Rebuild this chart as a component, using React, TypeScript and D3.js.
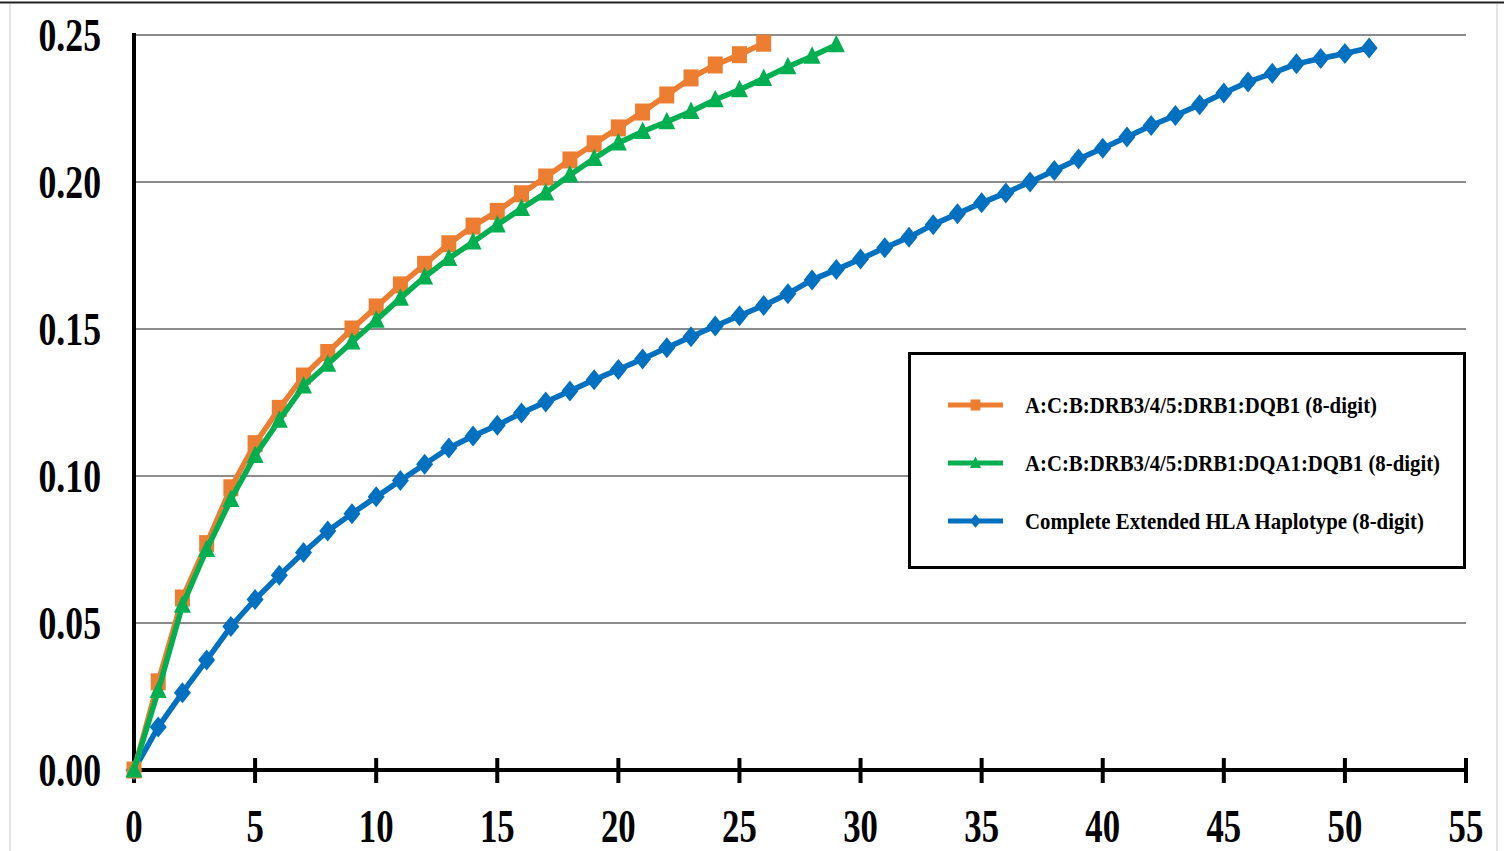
import React from "react";
import * as d3 from "d3";

// Cumulative frequency by haplotype rank (0-based index = rank)
const orangeValues = [
  0, 0.030, 0.0585, 0.077, 0.096, 0.111, 0.123, 0.134, 0.142, 0.150,
  0.1575, 0.165, 0.172, 0.179, 0.185, 0.190, 0.196, 0.2017, 0.2075, 0.213,
  0.2184, 0.2238, 0.2296, 0.2354, 0.2398, 0.2433, 0.2472,
];
const greenValues = [
  0, 0.027, 0.056, 0.075, 0.092, 0.107, 0.119, 0.1306, 0.138, 0.1456,
  0.153, 0.1605, 0.1677, 0.174, 0.1796, 0.1854, 0.191, 0.1963, 0.2024, 0.208,
  0.2133, 0.2172, 0.2205, 0.224, 0.228, 0.2314, 0.2352, 0.2392, 0.2428, 0.2467,
];
const blueValues = [
  0, 0.0146, 0.0263, 0.0374, 0.0488, 0.058, 0.0662, 0.074, 0.0813, 0.0872,
  0.0929, 0.0985, 0.104, 0.1095, 0.1136, 0.1173, 0.1214, 0.1252, 0.1289, 0.1327,
  0.1362, 0.1398, 0.1436, 0.1474, 0.151, 0.1545, 0.158, 0.162, 0.1667, 0.1702,
  0.1738, 0.1776, 0.1812, 0.1855, 0.1892, 0.1929, 0.1963, 0.2, 0.2039, 0.2078,
  0.2115, 0.2153, 0.2192, 0.2226, 0.2263, 0.2303, 0.234, 0.237, 0.2402, 0.242,
  0.2437, 0.2456,
];

const seriesLabels = [
  "A:C:B:DRB3/4/5:DRB1:DQB1 (8-digit)",
  "A:C:B:DRB3/4/5:DRB1:DQA1:DQB1 (8-digit)",
  "Complete Extended HLA Haplotype (8-digit)",
];
const xTicks = [0, 5, 10, 15, 20, 25, 30, 35, 40, 45, 50, 55];
const yTicks = [0, 0.05, 0.1, 0.15, 0.2, 0.25];

const ORANGE = "#ED7D31";
const GREEN = "#00B050";
const BLUE = "#0070C0";
const FONT = "'Liberation Serif', 'Times New Roman', serif";

type Shape = "square" | "triangle" | "diamond";

function markerPath(shape: Shape): string {
  if (shape === "square") return "M-7.5,-8.5H7.5V8.5H-7.5Z";
  if (shape === "triangle") return "M0,-10L8.5,7.5H-8.5Z";
  return "M0,-10.5L8.5,0L0,10.5L-8.5,0Z";
}

export default function App() {
  const W = 1504;
  const H = 851;
  const x = d3.scaleLinear().domain([0, 55]).range([134, 1466]);
  const y = d3.scaleLinear().domain([0, 0.25]).range([770, 35]);

  const line = d3
    .line<number>()
    .x((_, i) => x(i))
    .y((d) => y(d));

  const series: { values: number[]; color: string; shape: Shape }[] = [
    { values: blueValues, color: BLUE, shape: "diamond" },
    { values: orangeValues, color: ORANGE, shape: "square" },
    { values: greenValues, color: GREEN, shape: "triangle" },
  ];

  const legendItems = [
    { label: seriesLabels[0], color: ORANGE, shape: "square" as Shape, cy: 405, len: 352 },
    { label: seriesLabels[1], color: GREEN, shape: "triangle" as Shape, cy: 463, len: 415 },
    { label: seriesLabels[2], color: BLUE, shape: "diamond" as Shape, cy: 521, len: 399 },
  ];

  return (
    <svg
      width={W}
      height={H}
      viewBox={`0 0 ${W} ${H}`}
      style={{ position: "absolute", left: 0, top: 0, background: "#fff" }}
    >
      {/* sheet frame */}
      <line x1={0} x2={W} y1={2.5} y2={2.5} stroke="#222" strokeWidth={2} />
      <line x1={10} x2={10} y1={4} y2={H} stroke="#ddd" strokeWidth={1.5} />
      <line x1={1497} x2={1497} y1={4} y2={H} stroke="#ddd" strokeWidth={1.5} />

      {/* horizontal gridlines */}
      {yTicks.slice(1).map((t) => (
        <line
          key={`g${t}`}
          x1={x(0)}
          x2={x(55)}
          y1={y(t)}
          y2={y(t)}
          stroke="#8c8c8c"
          strokeWidth={2}
        />
      ))}

      {/* y axis */}
      <line x1={x(0)} x2={x(0)} y1={y(0.25) - 2} y2={y(0) + 2} stroke="#000" strokeWidth={4} />
      {yTicks.map((t) => (
        <text
          key={`yl${t}`}
          transform={`translate(101,${y(t) + 16}) scale(0.76,1)`}
          textAnchor="end"
          fontFamily={FONT}
          fontWeight="bold"
          fontSize={47}
          fill="#000"
        >
          {d3.format(".2f")(t)}
        </text>
      ))}

      {/* x axis */}
      <line x1={x(0) - 2} x2={x(55) + 2} y1={y(0)} y2={y(0)} stroke="#000" strokeWidth={4} />
      {xTicks.map((t) => (
        <g key={`xt${t}`}>
          <line x1={x(t)} x2={x(t)} y1={y(0) - 12} y2={y(0) + 13} stroke="#000" strokeWidth={4} />
          <text
            transform={`translate(${x(t)},842) scale(0.74,1)`}
            textAnchor="middle"
            fontFamily={FONT}
            fontWeight="bold"
            fontSize={47}
            fill="#000"
          >
            {t}
          </text>
        </g>
      ))}

      {/* series */}
      {series.map((s, si) => (
        <g key={`s${si}`}>
          <path d={line(s.values) ?? ""} fill="none" stroke={s.color} strokeWidth={5.5} strokeLinejoin="round" />
          {s.values.map((v, i) => (
            <path
              key={i}
              d={markerPath(s.shape)}
              transform={`translate(${x(i)},${y(v)})`}
              fill={s.color}
            />
          ))}
        </g>
      ))}

      {/* legend */}
      <rect x={909.5} y={353.5} width={555} height={214} fill="#fff" stroke="#000" strokeWidth={3} />
      {legendItems.map((it) => (
        <g key={it.label}>
          <line x1={948} x2={1003} y1={it.cy} y2={it.cy} stroke={it.color} strokeWidth={5} />
          <path d={markerPath(it.shape)} transform={`translate(975.5,${it.cy}) scale(0.65)`} fill={it.color} />
          <text
            x={1025}
            y={it.cy + 7.5}
            textLength={it.len}
            lengthAdjust="spacingAndGlyphs"
            fontFamily={FONT}
            fontWeight="bold"
            fontSize={23}
            fill="#000"
          >
            {it.label}
          </text>
        </g>
      ))}
    </svg>
  );
}
